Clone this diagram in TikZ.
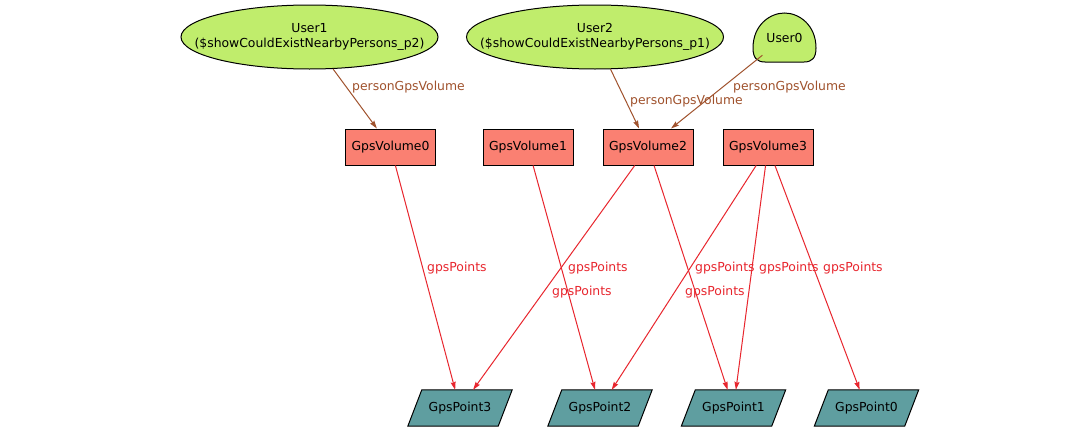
\documentclass[tikz,border=0pt]{standalone}
\usepackage{fontspec}
\setmainfont{DejaVu Sans}
\usetikzlibrary{shapes.geometric,arrows.meta,calc}
\definecolor{usergreen}{HTML}{C0ED6C}
\definecolor{volsalmon}{HTML}{FA8072}
\definecolor{ptteal}{HTML}{5F9EA0}
\definecolor{pgvbrown}{HTML}{A0522D}
\definecolor{gpsred}{HTML}{E8262E}
\tikzset{
  base/.style={font=\fontsize{12.4}{15}\selectfont, inner sep=0pt},
  userell/.style={ellipse, draw=black, line width=1pt, fill=usergreen, inner sep=0pt, minimum width=257, minimum height=64},
  usertext/.style={base, align=center},
  userzero/.style={base, ellipse, minimum width=63, minimum height=49},
  volbox/.style={base, rectangle, draw=black, line width=1pt, fill=volsalmon, minimum width=90, minimum height=36},
  ptbox/.style={base, rectangle, minimum width=104, minimum height=36},
  ptshape/.style={draw=black, line width=1pt, fill=ptteal},
  pgvedge/.style={draw=pgvbrown, line width=1pt, -{Stealth[length=8pt,width=5pt,inset=1pt]}},
  gpsedge/.style={draw=gpsred, line width=1pt, -{Stealth[length=8pt,width=5pt,inset=1pt]}},
  pgvlabel/.style={base, text=pgvbrown, anchor=west},
  gpslabel/.style={base, text=gpsred, anchor=west},
}
\begin{document}
\begin{tikzpicture}[x=1pt,y=-1pt]
\useasboundingbox[fill=white] (0,0) rectangle (1083,431);

% users
\node[userell] (u1) at (309.5,37) {};
\node[usertext] (u1t) at (u1) {User1\\(\$showCouldExistNearbyPersons\_p2)};
\node[userell] (u2) at (595,37) {};
\node[usertext] (u2t) at (u2) {User2\\(\$showCouldExistNearbyPersons\_p1)};
\draw[draw=black, line width=1pt, fill=usergreen]
  (753,48) .. controls (753,25) and (770,13) .. (784.5,13)
  .. controls (799,13) and (816,25) .. (816,48)
  .. controls (816,58) and (812,62) .. (804,62) -- (765,62)
  .. controls (757,62) and (753,58) .. (753,48) -- cycle;
\node[userzero] (u0) at (784.5,37.5) {User0};

% volumes
\node[volbox] (v0) at (390.5,147) {GpsVolume0};
\node[volbox] (v1) at (528,147) {GpsVolume1};
\node[volbox] (v2) at (648,147) {GpsVolume2};
\node[volbox] (v3) at (768,147) {GpsVolume3};

% points
\foreach \n/\x/\t in {p3/460/GpsPoint3, p2/600/GpsPoint2, p1/733.5/GpsPoint1, p0/866.5/GpsPoint0}{
  \node[ptbox] (\n) at (\x,408) {};
  \draw[ptshape] ($(\n.north west)+(14,0)$) -- (\n.north east) -- ($(\n.south east)+(-14,0)$) -- (\n.south west) -- cycle;
  \node[base] at (\n) {\t};
}

% brown edges
\draw[pgvedge] (u1) -- (v0);
\draw[pgvedge] (u2) -- (v2);
\draw[pgvedge] (u0) -- (v2);
\node[pgvlabel] (l1) at (352,87) {personGpsVolume};
\node[pgvlabel] (l2) at (630,101) {personGpsVolume};
\node[pgvlabel] (l3) at (733,87) {personGpsVolume};

% red edges
\draw[gpsedge] (v0) -- (p3);
\draw[gpsedge] (v1) -- (p2);
\draw[gpsedge] (v2) -- (p3);
\draw[gpsedge] (v2) -- (p1);
\draw[gpsedge] (v3) -- (p2);
\draw[gpsedge] (v3) -- (p1);
\draw[gpsedge] (v3) -- (p0);
\node[gpslabel] (g1) at (427,268) {gpsPoints};
\node[gpslabel] (g2) at (568,268) {gpsPoints};
\node[gpslabel] (g3) at (552,292) {gpsPoints};
\node[gpslabel] (g4) at (685,292) {gpsPoints};
\node[gpslabel] (g5) at (695,268) {gpsPoints};
\node[gpslabel] (g6) at (759,268) {gpsPoints};
\node[gpslabel] (g7) at (823,268) {gpsPoints};
\end{tikzpicture}
\end{document}
